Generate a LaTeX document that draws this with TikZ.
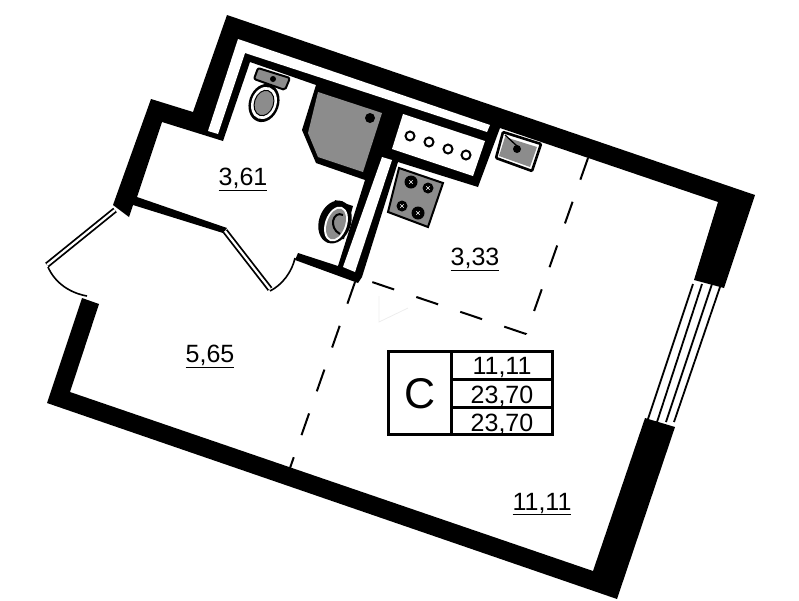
\documentclass[tikz,border=0pt]{standalone}
\usepackage{fontspec}
\setmainfont{Liberation Sans}
\usetikzlibrary{shapes.geometric, shapes.misc}
\tikzset {
    wall/.style = {fill = black},
    hole/.style = {fill = white},
    fixture/.style = {fill = fixturegray, draw = black},
    leaf/.style = {draw = black, double = white, double distance = 2.2pt, line width = 1.8pt},
    zone line/.style = {line width = 2pt, dash pattern = on 23pt off 23.4pt},
    swing/.style = {line width = 1.6pt},
    ring/.style = {ellipse, inner sep = 0pt, rotate = -19},
    burner/.style = {circle, fill = black, inner sep = 0pt, minimum size = 13pt},
    burner mark/.style = {cross out, draw = white, line width = 0.4pt, inner sep = 0pt, minimum size = 3pt},
    vent/.style = {circle, draw, fill = white, inner sep = 0pt, minimum size = 9pt, line width = 2pt},
    area/.style = {inner sep = 0pt, font = \fontsize{25}{28}\selectfont},
    cell/.style = {inner sep = 0pt, font = \fontsize{25}{28}\selectfont}
}
\definecolor{fixturegray}{gray}{0.55}
\newcommand{\arealabel}[1]{\underline{#1}}
\begin{document}
\begin{tikzpicture}[x = 1pt, y = -1pt]
    \useasboundingbox (0, 0) rectangle (799, 600);
    % outer walls
    \fill [wall] (227,15) -- (755,195) -- (724,288) -- (694,280) -- (718,202) -- (500,128)
        -- (478,187) -- (398,162) -- (362,277) -- (358,283) -- (295,260) -- (298,253)
        -- (338,266) -- (365,180) -- (316,163) -- (302,130) -- (316,85) -- (250,62)
        -- (223,141) -- (162,122) -- (137,197) -- (227,228) -- (223,233) -- (133,205)
        -- (129,217) -- (113,205) -- (151,99) -- (193,112) -- cycle;
    \fill [wall] (82,298) -- (99,304) -- (70,392) -- (593,571) -- (645,418)
        -- (675,427) -- (617,599) -- (47,403) -- cycle;
    % shaft and niches
    \fill [hole] (238,39) -- (490,125) -- (487,132) -- (245,53) -- (218,134) -- (208,131) -- cycle;
    \fill [hole] (382,157) -- (392,160) -- (355,272) -- (343,267) -- cycle;
    \fill [hole] (403,114) -- (485,141) -- (473,176) -- (392,149) -- cycle;
    % shower
    \fill [fixture, draw = none] (318,92) -- (382,113) -- (363,172) -- (318,157) -- (308,133) -- cycle;
    \node (drain) [circle, fill = black, inner sep = 0pt, minimum size = 10pt] at (370,118) {};
    % toilet
    \fill [fixture, line width = 2pt, rounded corners = 2pt] (258,68) -- (290,78) -- (285,90) -- (254,79) -- cycle;
    \node (tankhole) [circle, fill = black, inner sep = 0pt, minimum size = 6pt] at (273,79) {};
    \node (bowl) [ring, fill = black, minimum width = 30pt, minimum height = 39pt] at (264,103) {};
    \node (bowlmid) [ring, fill = white, minimum width = 25pt, minimum height = 33pt] at (264,103) {};
    \node (bowlin) [ring, fill = fixturegray, draw = black, line width = 1pt, minimum width = 19pt, minimum height = 26pt] at (264,103) {};
    % basin
    \fill [wall] (335,200) -- (353,206) -- (344,239) -- (330,240) -- cycle;
    \node (basin) [ring, fill = black, minimum width = 32pt, minimum height = 44pt] at (335,222) {};
    \node (basinmid) [ring, fill = white, minimum width = 22pt, minimum height = 36pt] at (336,224) {};
    \node (basinin) [ring, fill = fixturegray, minimum width = 18pt, minimum height = 32pt] at (336,224) {};
    \draw [line width = 2pt] (343,215) .. controls (333,210) and (328,228) .. (340,234);
    % vent holes
    \node (vent1) [vent] at (410,136) {};
    \node (vent2) [vent] at (429,142) {};
    \node (vent3) [vent] at (448,149) {};
    \node (vent4) [vent] at (466,155) {};
    % stove
    \fill [fixture, line width = 2pt] (399,168) -- (443,183) -- (428,227) -- (388,212) -- cycle;
    \node (burner1) [burner] at (411,182) {};
    \node (burner2) [burner, minimum size = 11pt] at (428,188) {};
    \node (burner3) [burner, minimum size = 11pt] at (402,206) {};
    \node (burner4) [burner] at (418,213) {};
    \foreach \b in {1, 2, 3, 4} {
        \node [burner mark] at (burner\b) {};
    }
    % sink
    \filldraw [fill = white, line width = 2.6pt, rounded corners = 1pt] (503,132) -- (541,144) -- (532,171) -- (496,158) -- cycle;
    \fill [fixturegray] (505,137) -- (537,147) -- (530,167) -- (499,156) -- cycle;
    \node (sinkhole) [circle, fill = black, inner sep = 0pt, minimum size = 8pt] at (517,149) {};
    \draw [line width = 1.3pt] (505,135) -- (517,146);
    % window
    \foreach \xa/\xb in {693/647, 702/657, 712/666, 721/674} {
        \draw [line width = 1.8pt] (\xa,284) -- (\xb,422);
    }
    % doors
    \draw [leaf] (115,210) -- (47,265);
    \draw [leaf] (225,231) -- (270,289);
    \draw [swing] (48,267) .. controls (55,283) and (70,293) .. (87,296);
    \draw [swing] (270,291) .. controls (282,285) and (292,272) .. (295,258);
    % zones
    \draw [zone line] (355,282) -- (290,468);
    \draw [zone line] (588,158) -- (526,334);
    \draw [zone line] (526,334) -- (372,282);
    % faint mark
    \draw [black!7, line width = 0.8pt] (379,296) -- (379,322) -- (408,308);
    % area labels
    \node (bath) [area] at (243,179) {\arealabel{3,61}};
    \node (kitchen) [area] at (475,259) {\arealabel{3,33}};
    \node (hall) [area] at (210,356) {\arealabel{5,65}};
    \node (room) [area] at (542,504) {\arealabel{11,11}};
    % table
    \draw [line width = 3pt] (388,351) rectangle (552,434);
    \draw [line width = 3pt] (451,351) -- (451,434);
    \draw [line width = 3pt] (451,379) -- (552,379);
    \draw [line width = 3pt] (451,407) -- (552,407);
    \node (type) [inner sep = 0pt, font = \fontsize{43}{46}\selectfont] at (420,394) {C};
    \node (row1) [cell] at (502,367) {11,11};
    \node (row2) [cell] at (502,396) {23,70};
    \node (row3) [cell] at (502,424) {23,70};
\end{tikzpicture}
\end{document}
